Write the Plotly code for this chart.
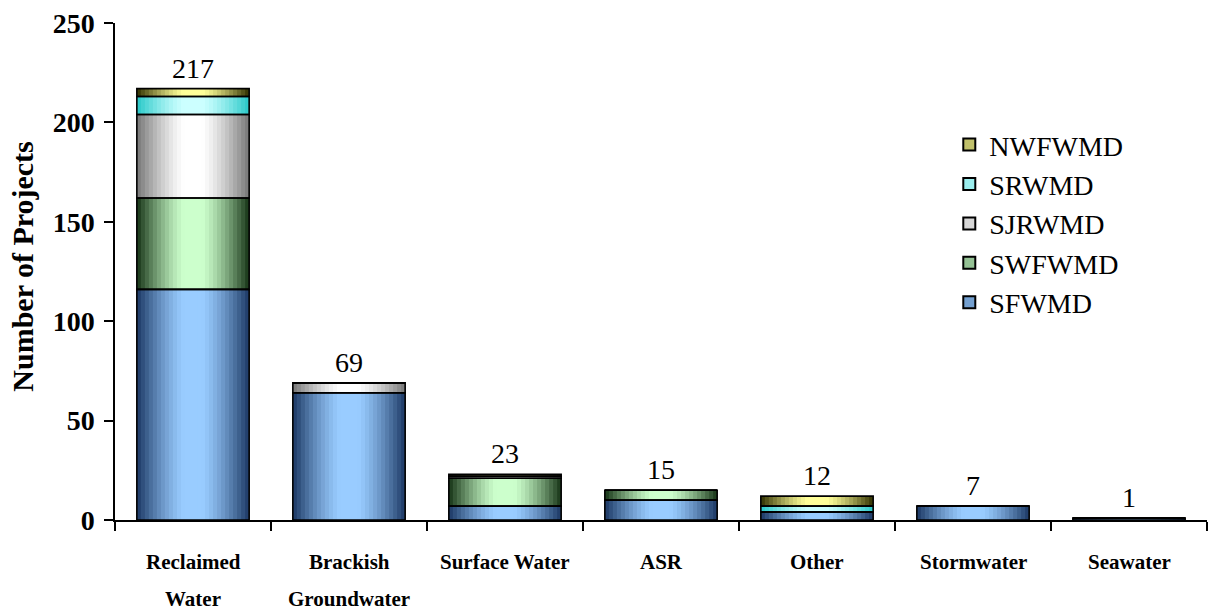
import plotly.graph_objects as go

# Water supply project counts by source type and water management district
categories = ["Reclaimed Water", "Brackish Groundwater", "Surface Water", "ASR",
              "Other", "Stormwater", "Seawater"]
# category captions as they are laid out under the axis (one or two lines)
category_lines = [["Reclaimed", "Water"], ["Brackish", "Groundwater"], ["Surface Water"],
                  ["ASR"], ["Other"], ["Stormwater"], ["Seawater"]]
districts = ["SFWMD", "SWFWMD", "SJRWMD", "SRWMD", "NWFWMD"]

sfwmd = [116, 64, 7, 10, 4, 7, 1]
swfwmd = [46, 0, 14, 5, 0, 0, 0]
sjrwmd = [42, 5, 1, 0, 0, 0, 0]
srwmd = [9, 0, 0, 0, 3, 0, 0]
nwfwmd = [4, 0, 1, 0, 5, 0, 0]
series = [sfwmd, swfwmd, sjrwmd, srwmd, nwfwmd]

totals = [217, 69, 23, 15, 12, 7, 1]

# (edge colour, centre colour) for the shaded cylinders of each district
shades = {
    "SFWMD": ((28, 56, 100), (153, 204, 255)),
    "SWFWMD": ((22, 52, 22), (204, 255, 204)),
    "SJRWMD": ((118, 118, 118), (255, 255, 255)),
    "SRWMD": ((40, 200, 200), (204, 255, 255)),
    "NWFWMD": ((48, 48, 0), (255, 255, 153)),
}

FONT = "Liberation Serif"
BAR_W = 0.72
N_STRIPS = 28


def blend(c0, c1, f):
    return "rgb({},{},{})".format(*[round(a + (b - a) * f) for a, b in zip(c0, c1)])


def profile(t):
    # brightness across the bar: dark edges, bright plateau in the middle
    d = abs(t - 0.5)
    if d < 0.08:
        return 1.0
    return max(0.0, 1.0 - ((d - 0.08) / 0.42) ** 1.3)


fig = go.Figure()

# cumulative bases for stacking
bases = []
running = [0] * len(categories)
for vals in series:
    bases.append(list(running))
    running = [r + v for r, v in zip(running, vals)]

strip_w = BAR_W / N_STRIPS
for name, vals, base in zip(districts, series, bases):
    edge, centre = shades[name]
    for k in range(N_STRIPS):
        t = (k + 0.5) / N_STRIPS
        w = strip_w * 1.6 if k < N_STRIPS - 1 else strip_w
        fig.add_trace(go.Bar(
            x=categories, y=vals, base=base,
            offset=-BAR_W / 2 + k * strip_w, width=w,
            marker=dict(color=blend(edge, centre, profile(t)), line=dict(width=0)),
            showlegend=False, hoverinfo="skip",
        ))

# outlines of each stacked segment
for name, vals, base in zip(districts, series, bases):
    fig.add_trace(go.Bar(
        x=categories, y=vals, base=base,
        offset=-BAR_W / 2, width=BAR_W,
        marker=dict(color="rgba(0,0,0,0)", line=dict(color="black", width=1.6)),
        showlegend=False, hoverinfo="skip",
    ))

# legend entries
for name in districts:
    edge, centre = shades[name]
    fig.add_trace(go.Bar(
        x=[None], y=[None], name=name,
        marker=dict(color=blend(edge, centre, 0.7), line=dict(color="black", width=1.5)),
    ))

# totals above the bars
for cat, tot in zip(categories, totals):
    fig.add_annotation(x=cat, y=tot, text=str(tot), showarrow=False,
                       yanchor="bottom", yshift=3,
                       font=dict(family=FONT, size=28, color="black"))

# category captions under the axis
for cat, lines in zip(categories, category_lines):
    for i, line in enumerate(lines):
        fig.add_annotation(x=cat, xref="x", y=-0.084 - 0.075 * i, yref="paper",
                           text=line, showarrow=False, yanchor="middle",
                           font=dict(family=FONT, size=21, color="black", weight="bold"))

# y-axis title
fig.add_annotation(x=-0.085, xref="paper", y=0.51, yref="paper", text="Number of Projects",
                   textangle=-90, showarrow=False, xanchor="center", yanchor="middle",
                   font=dict(family=FONT, size=30, color="black", weight="bold"))

fig.update_layout(
    barmode="overlay",
    width=1215, height=613,
    margin=dict(l=115, r=8, t=18, b=93),
    paper_bgcolor="white", plot_bgcolor="white",
    font=dict(family=FONT, color="black"),
    legend=dict(x=0.764, y=0.805, xanchor="left", yanchor="top",
                traceorder="reversed", font=dict(family=FONT, size=28),
                itemsizing="constant", tracegroupgap=0, bgcolor="rgba(0,0,0,0)"),
    xaxis=dict(
        type="category", range=[-0.5, 6.5],
        showline=True, linecolor="black", linewidth=1.5,
        ticks="outside", tickson="boundaries", ticklen=9, tickwidth=1.5, tickcolor="black",
        showticklabels=False,
        showgrid=False, zeroline=False,
    ),
    yaxis=dict(
        range=[0, 250], dtick=50,
        showline=True, linecolor="black", linewidth=1.5,
        ticks="outside", ticklen=9, tickwidth=1.5, tickcolor="black",
        ticklabelstandoff=4,
        tickfont=dict(family=FONT, size=28, color="black", weight="bold"),
        showgrid=False, zeroline=False,
    ),
)

fig.write_html("out.html")
